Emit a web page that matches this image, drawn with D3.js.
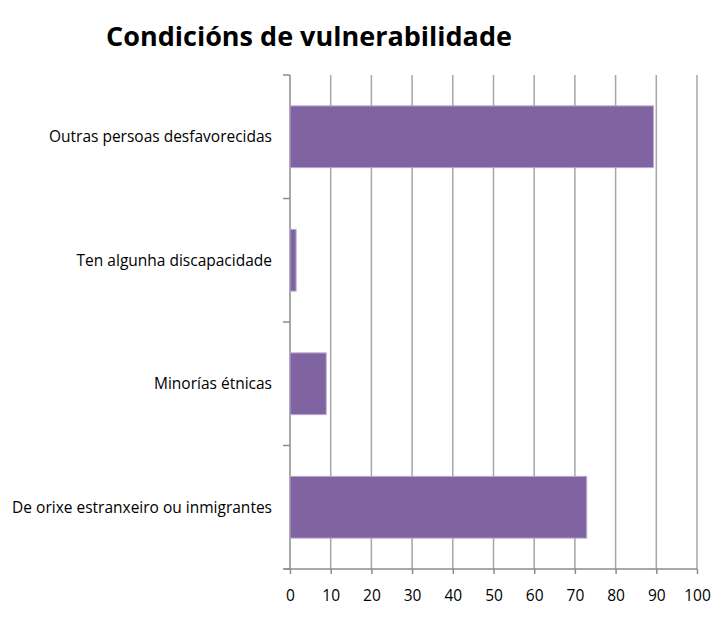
<!DOCTYPE html>
<html lang="gl">
<head>
    <meta charset="UTF-8">
    <title>Condicións de vulnerabilidade</title>
    <script src="https://d3js.org/d3.v7.min.js"></script>
    <style>
        body {margin: 0; background: white;}
        svg {font-family: "Open Sans", Lato, sans-serif;}
    </style>
</head>
<body>
<script>
    const width = 719;
    const height = 620;

    const categories = ["Outras persoas desfavorecidas", "Ten algunha discapacidade",
        "Minorías étnicas", "De orixe estranxeiro ou inmigrantes"];
    const values = [89.3, 1.5, 8.9, 72.9];
    const xTicks = [0, 10, 20, 30, 40, 50, 60, 70, 80, 90, 100];

    const margin = {top: 75, right: 22, bottom: 51, left: 290};

    const svg = d3.select("body").append("svg")
            .attr("width", width).attr("height", height);

    const x = d3.scaleLinear().domain([0, 100])
            .range([margin.left, width - margin.right]);
    const y = d3.scaleBand().domain(categories)
            .range([margin.top, height - margin.bottom])
            .paddingInner(0.5).paddingOuter(0.25);

    // title
    svg.append("text")
            .attr("x", 309).attr("y", 46)
            .attr("text-anchor", "middle")
            .style("font-size", "27px").style("font-weight", "bold")
            .text("Condicións de vulnerabilidade");

    // vertical gridlines
    svg.append("g").selectAll("line")
            .data(xTicks.slice(1)).enter()
            .append("line")
            .attr("x1", d => x(d)).attr("x2", d => x(d))
            .attr("y1", margin.top).attr("y2", height - margin.bottom)
            .attr("stroke", "#a6a6a6").attr("stroke-width", 1.5);

    // x axis
    const xAxis = svg.append("g")
            .attr("transform", `translate(0,${height - margin.bottom})`)
            .call(d3.axisBottom(x).tickValues(xTicks).tickSize(5).tickPadding(16).tickSizeOuter(0));
    xAxis.select(".domain").attr("d", `M${margin.left - 6},0H${width - margin.right}`);

    // y axis: line with ticks at band boundaries
    const yAxis = svg.append("g");
    yAxis.append("line")
            .attr("x1", margin.left).attr("x2", margin.left)
            .attr("y1", margin.top).attr("y2", height - margin.bottom);
    const step = y.step();
    yAxis.selectAll("line.tick")
            .data(d3.range(categories.length + 1)).enter()
            .append("line").attr("class", "tick")
            .attr("x1", margin.left - 7).attr("x2", margin.left)
            .attr("y1", i => margin.top + i * step).attr("y2", i => margin.top + i * step);
    yAxis.selectAll("line").attr("stroke", "#8c8c8c").attr("stroke-width", 1.5);

    yAxis.selectAll("text")
            .data(categories).enter()
            .append("text")
            .attr("x", margin.left - 18)
            .attr("y", d => y(d) + y.bandwidth() / 2)
            .attr("dy", "0.35em")
            .attr("text-anchor", "end")
            .style("font-size", "15.5px")
            .text(d => d);

    // bars
    svg.append("g").selectAll("rect")
            .data(categories).enter()
            .append("rect")
            .attr("x", x(0))
            .attr("y", d => y(d))
            .attr("width", (d, i) => x(values[i]) - x(0))
            .attr("height", y.bandwidth())
            .attr("fill", "#8064a2")
            .attr("stroke", "#b9a9cf").attr("stroke-width", 1);

    xAxis.selectAll(".domain, .tick line").attr("stroke", "#8c8c8c").attr("stroke-width", 1.5);
    xAxis.selectAll("text").style("font-size", "15.5px").style("font-family", "'Open Sans', sans-serif").attr("fill", "black");
</script>
</body>
</html>
